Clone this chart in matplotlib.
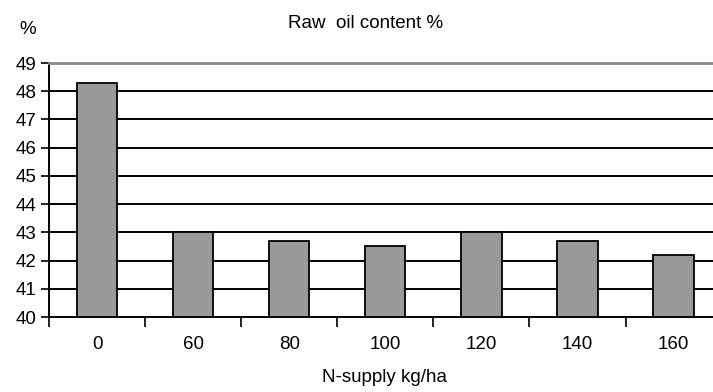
import matplotlib.pyplot as plt
import numpy as np

plt.rcParams['font.family'] = ['Liberation Sans', 'DejaVu Sans']

# N supply levels (kg/ha) and raw oil content (%)
n_supply = ["0", "60", "80", "100", "120", "140", "160"]
oil_content = [48.3, 43.0, 42.7, 42.5, 43.0, 42.7, 42.2]
y_ticks = list(range(40, 50))

fig = plt.figure(figsize=(7.13, 3.92), dpi=100)
ax = fig.add_axes([49 / 713, 75 / 392, 672.6 / 713, 254 / 392])

x = np.arange(len(n_supply))
ax.bar(x, [v - 40 for v in oil_content], bottom=40, width=0.42,
       color="#999999", edgecolor="black", linewidth=1.3, zorder=3)

# horizontal grid lines, the top one is the plot border
for y in y_ticks[1:-1]:
    ax.axhline(y, color="black", linewidth=1.4, zorder=1)

ax.set_xlim(-0.5, len(n_supply) - 0.5)
ax.set_ylim(40, 49)
ax.set_yticks(y_ticks)
ax.tick_params(axis="y", direction="out", length=6, width=1.2, labelsize=13.5, pad=3)

# ticks between categories, labels under the bars
ax.set_xticks(np.arange(len(n_supply) + 1) - 0.5)
ax.set_xticklabels([])
ax.set_xticks(x, minor=True)
ax.set_xticklabels(n_supply, minor=True)
ax.tick_params(axis="x", which="major", direction="out", length=7, width=1.2)
ax.tick_params(axis="x", which="minor", length=0, labelsize=13.5, pad=14)

for side in ["left", "bottom"]:
    ax.spines[side].set_color("black")
    ax.spines[side].set_linewidth(1.4)
ax.spines["top"].set_color("#888888")
ax.spines["top"].set_linewidth(2)
ax.spines["right"].set_visible(False)

fig.text(366 / 713, 1 - 24 / 392, "Raw  oil content %", ha="center", va="center", fontsize=13.5)
fig.text(28 / 713, 1 - 29 / 392, "%", ha="center", va="center", fontsize=13.5)
fig.text(384 / 713, 1 - 377 / 392, "N-supply kg/ha", ha="center", va="center", fontsize=13.5)

fig.savefig("out.png", dpi=100)
